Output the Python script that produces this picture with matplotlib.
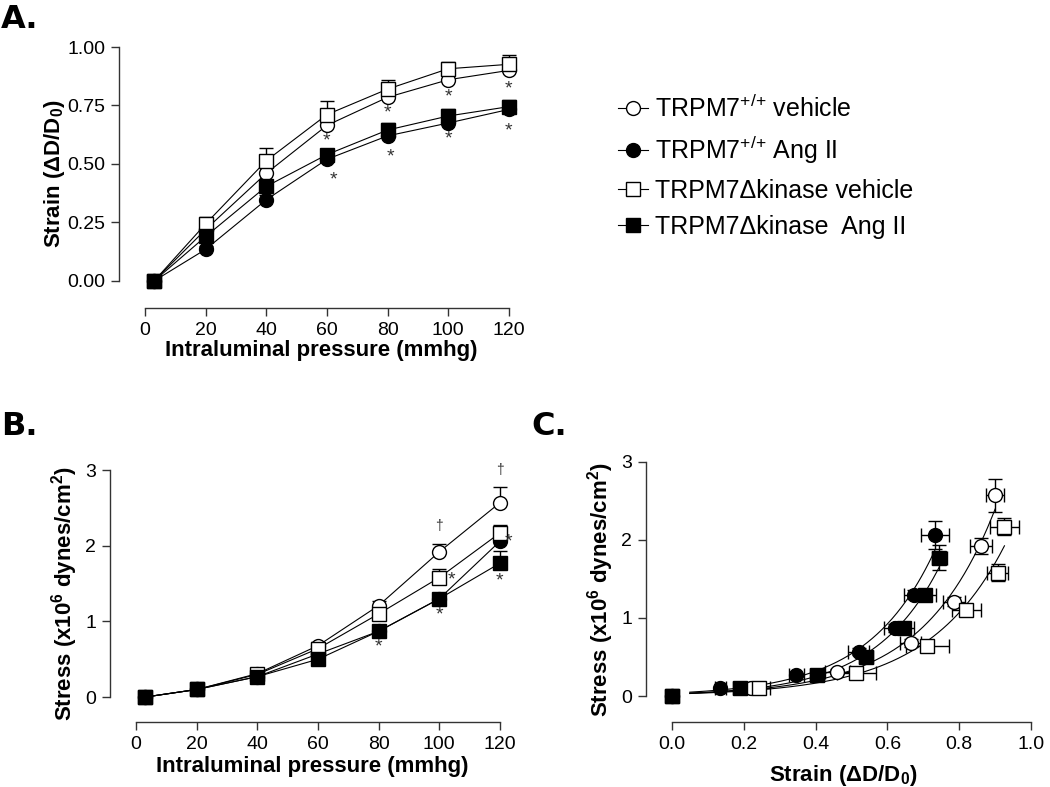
import numpy as np
import matplotlib.pyplot as plt
from matplotlib.lines import Line2D

plt.rcParams['font.family'] = ['Liberation Sans', 'DejaVu Sans']
plt.rcParams['mathtext.fontset'] = 'custom'
plt.rcParams['mathtext.rm'] = 'Liberation Sans'
plt.rcParams['mathtext.it'] = 'Liberation Sans:italic'
plt.rcParams['mathtext.bf'] = 'Liberation Sans:bold'

pressure = [3, 20, 40, 60, 80, 100, 120]
groups = ['veh', 'ang', 'kveh', 'kang']
labels = [r'TRPM7$^{+/{+}}$ vehicle', r'TRPM7$^{+/{+}}$ Ang II',
          'TRPM7\u0394kinase vehicle', 'TRPM7\u0394kinase  Ang II']

# strain (dD/D0) mean and sem
strain = {
    'veh':  [0, 0.22, 0.46, 0.665, 0.785, 0.86, 0.90],
    'ang':  [0, 0.135, 0.347, 0.52, 0.62, 0.675, 0.733],
    'kveh': [0, 0.244, 0.514, 0.711, 0.82, 0.907, 0.926],
    'kang': [0, 0.19, 0.404, 0.54, 0.645, 0.705, 0.745],
}
strain_err = {
    'veh':  [0, 0.02, 0.035, 0.03, 0.03, 0.03, 0.025],
    'ang':  [0, 0.015, 0.02, 0.03, 0.03, 0.03, 0.04],
    'kveh': [0, 0.03, 0.055, 0.06, 0.04, 0.03, 0.04],
    'kang': [0, 0.02, 0.02, 0.02, 0.03, 0.03, 0.02],
}
# stress (x10^6 dynes/cm2) mean and sem
stress = {
    'veh':  [0, 0.10, 0.31, 0.68, 1.21, 1.92, 2.57],
    'ang':  [0, 0.10, 0.27, 0.57, 0.87, 1.30, 2.06],
    'kveh': [0, 0.10, 0.30, 0.64, 1.10, 1.58, 2.17],
    'kang': [0, 0.10, 0.27, 0.50, 0.87, 1.30, 1.77],
}
stress_err = {
    'veh':  [0, 0.01, 0.03, 0.05, 0.06, 0.10, 0.21],
    'ang':  [0, 0.01, 0.02, 0.04, 0.05, 0.06, 0.18],
    'kveh': [0, 0.01, 0.03, 0.04, 0.05, 0.11, 0.11],
    'kang': [0, 0.01, 0.02, 0.03, 0.04, 0.05, 0.16],
}

# significance marks
star_A_x = [60, 62, 80, 81, 100, 100, 120, 120]
star_A_y = [0.60, 0.43, 0.72, 0.53, 0.785, 0.605, 0.82, 0.64]
star_B_x = [80, 104, 100, 123, 120]
star_B_y = [0.66, 1.55, 1.09, 2.05, 1.53]
dagger_B_x = [100, 120]
dagger_B_y = [2.26, 3.0]

style = {
    'veh':  dict(marker='o', mfc='white', ms=10),
    'ang':  dict(marker='o', mfc='black', ms=10),
    'kveh': dict(marker='s', mfc='white', ms=10.5),
    'kang': dict(marker='s', mfc='black', ms=10.5),
}
common = dict(color='black', mec='black', mew=1, lw=0.8)

W, H = 1050, 787
fig = plt.figure(figsize=(W / 100, H / 100), dpi=100)
LABEL_FS = 16


def px_axes(left, right, top, bottom):
    return fig.add_axes([left / W, 1 - bottom / H, (right - left) / W, (bottom - top) / H])


def setup(ax, xlim, ylim, xb, yb, xt, yt):
    ax.set_xlim(*xlim)
    ax.set_ylim(*ylim)
    ax.spines['top'].set_visible(False)
    ax.spines['right'].set_visible(False)
    ax.spines['bottom'].set_bounds(*xb)
    ax.spines['left'].set_bounds(*yb)
    for s in ['bottom', 'left']:
        ax.spines[s].set_color('#333333')
        ax.spines[s].set_linewidth(1)
    ax.set_xticks(xt)
    ax.set_yticks(yt)
    ax.tick_params(direction='out', length=6, width=1, color='#333333',
                   labelsize=14, pad=4)
    ax.patch.set_visible(False)


# ---- A: strain vs pressure
axA = px_axes(119, 524, 40, 308)
setup(axA, (-8.6, 125), (-0.116, 1.03), (0, 120), (0, 1), range(0, 121, 20),
      [0, 0.25, 0.5, 0.75, 1.0])
axA.set_yticklabels(['0.00', '0.25', '0.50', '0.75', '1.00'])
for g in groups:
    err = np.array(strain_err[g])
    axA.errorbar(pressure, strain[g], yerr=[np.zeros_like(err), err], capsize=5,
                 elinewidth=1, capthick=1, clip_on=False, **style[g], **common)
for x, y in zip(star_A_x, star_A_y):
    axA.text(x, y, '*', ha='center', va='center', fontsize=14, color='#333333')
axA.set_xlabel('Intraluminal pressure (mmhg)', fontsize=LABEL_FS, fontweight='bold', labelpad=1)
axA.set_ylabel(r'Strain (ΔD/D$_\mathbf{0}$)', fontsize=LABEL_FS, fontweight='bold', labelpad=0)

# ---- B: stress vs pressure
axB = px_axes(110, 515, 465, 722)
setup(axB, (-8.6, 125), (-0.33, 3.07), (0, 120), (0, 3), range(0, 121, 20), [0, 1, 2, 3])
for g in groups:
    err = np.array(stress_err[g])
    axB.errorbar(pressure, stress[g], yerr=[np.zeros_like(err), err], capsize=5,
                 elinewidth=1, capthick=1, clip_on=False, **style[g], **common)
for x, y in zip(star_B_x, star_B_y):
    axB.text(x, y, '*', ha='center', va='center', fontsize=14, color='#333333')
for x, y in zip(dagger_B_x, dagger_B_y):
    axB.text(x, y, '\u2020', ha='center', va='center', fontsize=10, color='#333333')
axB.set_xlabel('Intraluminal pressure (mmhg)', fontsize=LABEL_FS, fontweight='bold', labelpad=2)
axB.set_ylabel(r'Stress (x10$^\mathbf{6}$ dynes/cm$^\mathbf{2}$)', fontsize=LABEL_FS,
               fontweight='bold', labelpad=4)

# ---- C: stress vs strain
axC = px_axes(646, 1040, 458, 722)
setup(axC, (-0.072, 1.025), (-0.333, 3.05), (0, 1), (0, 3),
      [0, 0.2, 0.4, 0.6, 0.8, 1.0], [0, 1, 2, 3])
axC.set_xticklabels(['0.0', '0.2', '0.4', '0.6', '0.8', '1.0'])
for g in groups:
    x = np.array(strain[g])
    y = np.array(stress[g])
    m = y > 0
    b, a = np.polyfit(x[m], np.log(y[m]), 1, w=np.sqrt(y[m]))
    xs = np.linspace(0.05, x.max(), 200)
    axC.plot(xs, np.exp(a) * np.exp(b * xs), color='black', lw=0.8)
for g in groups:
    axC.errorbar(strain[g], stress[g], xerr=strain_err[g], yerr=stress_err[g],
                 capsize=5, elinewidth=1, capthick=1, ls='none', clip_on=False,
                 marker=style[g]['marker'], mfc=style[g]['mfc'], ms=style[g]['ms'],
                 color='black', mec='black', mew=1)
axC.set_xlabel(r'Strain (ΔD/D$_\mathbf{0}$)', fontsize=LABEL_FS, fontweight='bold', labelpad=7)
axC.set_ylabel(r'Stress (x10$^\mathbf{6}$ dynes/cm$^\mathbf{2}$)', fontsize=LABEL_FS,
               fontweight='bold', labelpad=4)

# panel letters
for lbl, x, y in [('A.', 1, 4), ('B.', 1, 411), ('C.', 531, 411)]:
    fig.text(x / W, 1 - y / H, lbl, fontsize=23, fontweight='bold', va='top',
             family=['DejaVu Sans'])

# legend
handles = [Line2D([], [], ls='-', **style[g], **common) for g in groups]
fig.legend(handles, labels, loc='upper left', bbox_to_anchor=(595 / W, 1 - 72 / H),
           frameon=False, fontsize=18, handlelength=1.2, handletextpad=0.3,
           labelspacing=0.5)

fig.savefig('out.png', dpi=100)
